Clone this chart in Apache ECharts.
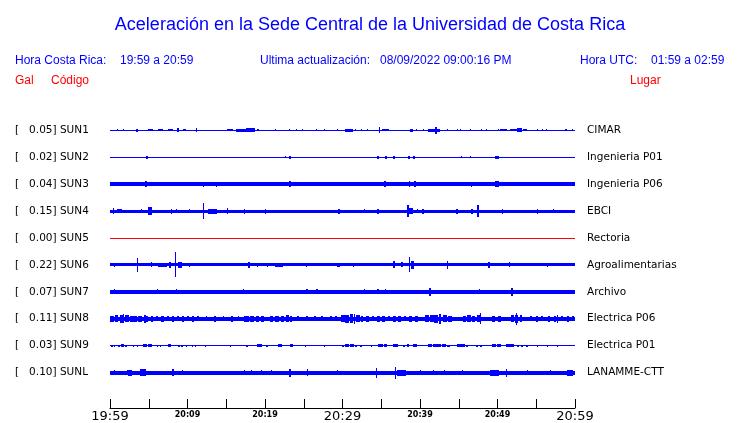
<!DOCTYPE html>
<html><head><meta charset="utf-8">
<script src="https://cdn.jsdelivr.net/npm/echarts@6/dist/echarts.min.js"></script>
<style>html,body{margin:0;padding:0;background:#fff}#c{width:740px;height:423px}</style>
</head><body><div id="c"></div>
<script>
// ---------- data ----------
const codes  = ['SUN1','SUN2','SUN3','SUN4','SUN5','SUN6','SUN7','SUN8','SUN9','SUNL'];
const places = ['CIMAR','Ingenieria P01','Ingenieria P06','EBCI','Rectoria','Agroalimentarias','Archivo','Electrica P06','Electrica P01','LANAMME-CTT'];
const peaks  = ['0.05','0.02','0.04','0.15','0.00','0.22','0.07','0.11','0.03','0.10'];
// background noise level of every trace (display amplitude)
const noiseLevel = [0.5, 0.5, 2, 1.5, 0.5, 1.5, 1.7, 2, 0.5, 2];
// tick labels (minutes after 19:59)
const tickMinutes = [0, 10, 20, 30, 40, 50, 60];
const tickLabels  = ['19:59','20:09','20:19','20:29','20:39','20:49','20:59'];
const majorTicks  = ['19:59','20:29','20:59'];
// bursts: [minute, amplitude, duration in minutes]
const sun1 = [[1.0,1,0.1],[1.8,1,0.1],[3.5,1.5,0.3],[5.2,1,0.7],[6.5,1,0.6],[7.8,1,0.6],[8.8,2,0.3],[9.6,1,0.4],[11.1,2,0.15],[12.1,0.8,0.1],[15.5,1,0.8],[17,1.5,1.5],[18.1,2,1.2],[19.1,1,0.2],[21.3,1,0.1],[23.2,1,0.1],[24,1,0.1],[24.8,1,0.1],[26.7,1,0.1],[27.7,1,0.1],[29.3,1,0.1],[30.8,1.5,1],[31.7,1,0.1],[32.5,1,0.1],[33.2,1,0.1],[34.8,3,0.15],[35.6,1,0.9],[38.9,1.5,0.4],[39.5,1,0.1],[40.4,1,0.1],[41.8,1.5,1.5],[42.1,3.5,0.3],[43.6,1,0.1],[44.9,1,0.1],[45.2,1,0.1],[46.5,1,0.1],[47.9,1,0.1],[48.6,1,0.1],[50.1,1,0.1],[50.8,1,0.9],[52,1,0.9],[52.9,2,0.6],[53.5,1,0.5],[55.2,1,0.15],[55.8,1,0.15],[56.3,1,0.15],[58.8,1,0.3],[59.7,1,0.1]];
const sun2 = [[4.8,1.5,0.3],[7.6,0.8,0.1],[19,0.8,0.1],[22.6,1,0.1],[23.2,1.5,0.2],[25.9,0.8,0.1],[34.6,1.5,0.3],[35.6,1.5,0.3],[36.6,1.5,0.3],[37.9,0.8,0.1],[38.6,1.5,0.3],[39.2,1.5,0.3],[45.3,1,0.1],[46.5,1,0.1],[49.9,1.5,0.5]];
const sun3 = [[4.6,3,0.2],[12.1,2.5,0.1],[13.7,2.5,0.1],[23.2,3,0.2],[35.5,3,0.3],[38.6,3,0.1],[39.4,3,0.3],[46.7,2.5,0.1],[49.9,3.2,0.5]];
const sun4 = [[0.5,3,0.15],[1.2,2,0.6],[4.1,2,0.1],[5.1,4,0.5],[7.9,2.5,0.15],[8.6,2,0.1],[10.3,2,0.1],[12.1,8,0.15],[13.2,2.5,1.2],[15.1,3,0.15],[17.4,2.5,0.1],[20.1,2.5,0.1],[29.5,2.5,0.3],[32.8,2,0.1],[34.6,2.5,0.3],[38.5,6,0.2],[38.9,3,0.5],[39.7,2,0.1],[40.4,2.5,0.2],[44.8,2.5,0.3],[46.7,2.5,0.3],[47.5,6,0.2],[50.7,2.5,0.1],[55.2,2.5,0.1],[57.2,2,0.1]];
const sun5 = [];
const sun6 = [[0.6,2,0.1],[3.6,7,0.12],[5.4,2.5,0.1],[6.8,2,1.2],[7.7,3,0.2],[8.4,12.5,0.12],[9,3,0.5],[10.3,2,0.1],[17.9,3,0.2],[19,2,0.1],[20.3,2,0.1],[21.8,2,1],[25.4,2,0.1],[29.5,2,0.4],[31.4,2,0.1],[36.6,3.5,0.2],[37.7,2.5,0.3],[38.6,7.5,0.15],[39,4,0.4],[43.6,4,0.15],[48.9,3,0.2],[51.5,2.5,0.15],[56.5,2,0.1]];
const sun7 = [[0.6,2.5,0.1],[3.5,2,0.1],[6.1,2.5,0.1],[8.6,2.5,0.1],[17.2,2.5,0.1],[25.4,2.5,0.2],[26.7,2.5,0.2],[32.9,2.5,0.1],[34.6,2.5,0.2],[35.6,2.5,0.1],[41.3,4,0.2],[47.7,2.5,0.1],[51.9,4,0.2],[54.6,2.2,0.1]];
const sun8 = [[0.3,3,0.5],[0.9,3.5,0.4],[1.5,4,0.5],[1.7,4.5,0.15],[2.2,3.5,0.5],[2.8,3,0.5],[3.3,3,0.4],[3.9,3,0.5],[4.5,4,0.2],[4.8,3,0.3],
  [5.4,3,0.3],[6.1,2.5,0.2],[6.8,3,0.4],[7.5,2.5,0.2],[8.1,3,0.3],[8.8,2.5,0.2],[9.4,3,0.3],[10,2.5,0.2],[10.7,3,0.3],[11.3,2.5,0.2],
  [12.5,2.5,0.15],[13.6,3,0.2],[14.7,2.5,0.15],[15.7,3,0.2],[16.6,2.5,0.15],
  [17.6,3,0.6],[18.3,3,0.5],[19,3,0.4],[19.7,3,0.4],[20.8,3,0.4],[21.5,3.2,0.5],[22.2,3,0.4],[22.9,3.5,0.4],[23.3,3,0.3],
  [24.3,2.5,0.2],[25.4,2.5,0.2],[26.5,2.5,0.2],[27.4,2.5,0.2],[28.5,2.5,0.2],[29.2,2.5,0.2],
  [30,3.5,0.5],[30.6,4,0.5],[31.2,4.5,0.4],[31.5,5,0.15],[32,3.5,0.5],[32.5,3,0.3],
  [33.2,3,0.4],[33.9,2.5,0.3],[34.6,3,0.4],[35.3,3,0.4],[36,2.5,0.3],[36.7,3,0.4],[37.4,3,0.4],[38.1,2.5,0.3],[38.8,3,0.4],[39.5,3,0.4],
  [40.9,3.5,0.5],[41.5,3.5,0.5],[42.1,4,0.5],[42.6,5,0.2],[43.2,3.5,0.5],[43.9,3,0.5],
  [45.7,3,0.4],[46.3,3.5,0.5],[46.9,3,0.4],[47.5,3.5,0.4],[47.8,5.5,0.15],
  [49.5,3,0.4],[50.2,3,0.4],[51.9,3.5,0.4],[52.4,4,0.4],[52.5,6,0.15],[53,3.5,0.3],
  [54.3,2.5,0.3],[55.1,3,0.3],[55.8,2.5,0.3],[56.6,3,0.3],[57.4,3,0.3],[57.8,4,0.15],[58.3,2.5,0.3],[59.1,3,0.3],[59.7,2.5,0.2]];
const sun9 = [[0.2,1,0.3],[0.6,1,0.1],[1.1,1,0.3],[1.6,1.5,0.4],[2.1,1,0.3],[3,1,0.1],[3.5,1,0.1],[4.5,1.5,0.5],[5.1,1.5,0.5],[6.1,1,0.1],[6.5,1,0.1],[7.7,1.5,0.4],[8.9,1,0.2],[9.3,1,0.2],[9.9,1,0.1],[10.6,1,0.1],[11,1,0.1],[12.3,1,0.1],[15.5,1,0.1],
  [17.7,1,0.2],[19.3,1.5,0.6],[20.2,1,0.3],[21.9,1.5,0.5],[23.4,1.5,0.4],[25.2,1,0.1],[27.7,1,0.1],
  [30.1,1,0.2],[30.6,1.5,0.5],[31.2,1.5,0.5],[31.8,1,0.3],[32.4,1,0.3],[33.8,1,0.1],[34.9,1.5,0.6],[35.5,1.5,0.4],[36.8,1.5,0.6],[37.9,1,0.2],[38.5,1.5,0.2],[39.4,1.5,0.5],
  [41.3,1.5,0.5],[41.9,1.5,0.5],[42.5,1.5,0.5],[43.1,1.5,0.5],[43.7,1,0.4],[45,1.5,0.5],[45.6,1.5,0.5],[46.1,1,0.2],[47.4,1,0.3],[47.9,1,0.2],
  [49.6,1.5,0.5],[50.2,1.5,0.5],[51.3,1.5,0.5],[51.9,1.5,0.5],[52.6,1,0.3],[53.1,1,0.3],[53.8,1,0.2],[55.2,1,0.1],[56.5,1,0.1],[57.8,1,0.1]];
const sunL = [[0.6,2.5,0.1],[2.3,2.5,0.1],[2.6,3,0.5],[4.3,3.5,0.8],[8.1,3.5,0.2],[9.3,2.5,0.1],[17.4,2.5,0.1],[18.3,2.5,0.1],[19.5,2.5,0.1],[20.8,2.5,0.1],[23.2,4,0.3],[25.5,3.5,0.1],[29.4,2.5,0.1],[34.4,5,0.15],[36.9,6,0.15],[37.6,3,1.2],[40,2.5,0.1],[41.7,2.5,0.1],[43.2,2.5,0.1],[45.5,2.5,0.1],[49.6,3,1.2],[51.2,4,0.15],[53.9,2.5,0.1],[56.8,2.5,0.1],[59.3,3,0.8]];
const bursts = [sun1, sun2, sun3, sun4, sun5, sun6, sun7, sun8, sun9, sunL];
const traceColors = ['#0000ff','#0000ff','#0000ff','#0000ff','#ff0000','#0000ff','#0000ff','#0000ff','#0000ff','#0000ff'];

// ---------- chart ----------
const ROW = 27; // display units per trace row
const chart = echarts.init(document.getElementById('c'), null, {renderer: 'canvas'});

function renderTrace(color) {
  return function (params, api) {
    const t = api.value(0), amp = api.value(1), dur = api.value(2), row = api.value(3);
    const c = api.coord([t, (row + 0.5) * ROW]);
    const w = Math.max(1, Math.round(api.size([dur, 0])[0]));
    const h = api.size([0, amp])[1];
    const y0 = Math.round(c[1] - h), y1 = Math.max(y0 + 1, Math.round(c[1] + h));
    const x0 = Math.round(c[0] - w / 2);
    return {type: 'rect', shape: {x: x0, y: y0, width: w, height: y1 - y0}, style: {fill: color}};
  };
}

const series = codes.map((code, i) => {
  const data = [[30, noiseLevel[i], 60, i]].concat(bursts[i].map(b => [b[0], b[1], b[2], i]));
  return {
    type: 'custom', name: code, xAxisIndex: 0, yAxisIndex: 2,
    renderItem: renderTrace(traceColors[i]),
    data: data, animation: false, silent: true
  };
});

const blue = '#0000ff', red = '#ff0000';
const hdrFont = '"Liberation Sans", Arial, sans-serif';
function txt(x, y, s, color, size, align) {
  return {type: 'text', x: x, y: y, style: {text: s, fill: color, font: size + 'px ' + hdrFont, textAlign: align || 'left', textVerticalAlign: 'middle'}};
}

chart.setOption({
  animation: false,
  backgroundColor: '#fff',
  title: {
    text: 'Aceleración en la Sede Central de la Universidad de Costa Rica',
    left: 'center', top: 11,
    textStyle: {color: blue, fontSize: 18, fontWeight: 'normal', fontFamily: hdrFont}
  },
  graphic: [
    txt(15, 61, 'Hora Costa Rica:', blue, 12),
    txt(120, 61, '19:59 a 20:59', blue, 12),
    txt(260, 61, 'Ultima actualización:', blue, 12),
    txt(380, 61, '08/09/2022 09:00:16 PM', blue, 12),
    txt(580, 61, 'Hora UTC:', blue, 12),
    txt(651, 61, '01:59 a 02:59', blue, 12),
    txt(15, 81, 'Gal', red, 12),
    txt(51, 81, 'Código', red, 12),
    txt(630, 81, 'Lugar', red, 12)
  ],
  grid: {left: 110, right: 165, top: 117, height: 270, containLabel: false},
  xAxis: {
    type: 'value', min: 0, max: 60, interval: 5, offset: 22, position: 'bottom',
    axisLine: {show: true, onZero: false, lineStyle: {color: '#000', width: 1}},
    axisTick: {show: true, inside: true, length: 9, lineStyle: {color: '#000'}},
    splitLine: {show: false},
    axisLabel: {
      show: true, margin: 2, showMinLabel: true, showMaxLabel: true,
      formatter: v => {
        const k = tickMinutes.indexOf(v);
        if (k < 0) return '';
        const s = tickLabels[k];
        return majorTicks.indexOf(s) >= 0 ? '{b|' + s + '}' : '{s|' + s + '}';
      },
      rich: {
        b: {fontSize: 13, fontFamily: '"DejaVu Sans"', color: '#000'},
        s: {fontSize: 8, fontWeight: 'bold', fontFamily: '"DejaVu Sans"', color: '#000', padding: [1, 0, 0, 0]}
      }
    }
  },
  yAxis: [
    {
      type: 'category', position: 'left', inverse: true, data: codes,
      axisLine: {show: false}, axisTick: {show: false}, splitLine: {show: false},
      axisLabel: {
        margin: 95, align: 'left', color: '#000', fontSize: 10.5, fontFamily: '"DejaVu Sans"',
        formatter: (v, i) => '[   ' + peaks[i] + '] ' + v
      }
    },
    {
      type: 'category', position: 'right', inverse: true, data: places,
      axisLine: {show: false}, axisTick: {show: false}, splitLine: {show: false},
      axisLabel: {margin: 12, align: 'left', color: '#000', fontSize: 10.5, fontFamily: '"DejaVu Sans"'}
    },
    {
      type: 'value', show: false, min: 0, max: 10 * ROW, inverse: true, position: 'left'
    }
  ],
  series: series
});
</script></body></html>
